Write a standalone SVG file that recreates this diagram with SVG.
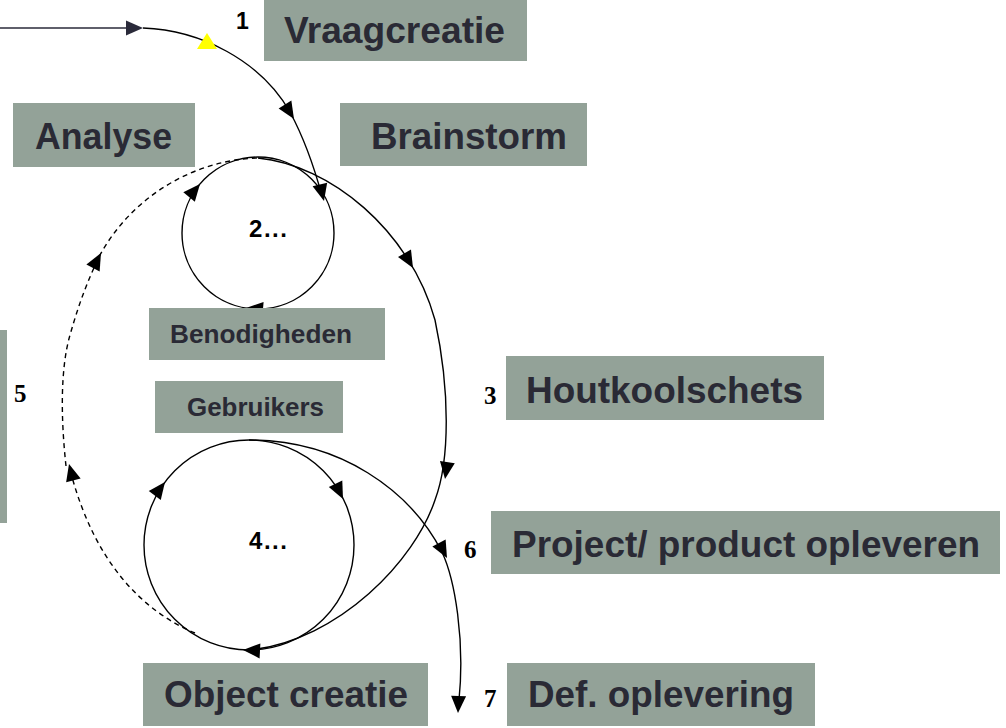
<svg xmlns="http://www.w3.org/2000/svg" xmlns:xlink="http://www.w3.org/1999/xlink" width="1006" height="728" viewBox="0 0 1006 728">
<style>
.box{fill:#93a298}
.lbl{font-family:"Liberation Sans",Arial,sans-serif;font-weight:bold;font-size:37px;fill:#2a2a35}
.sm{font-size:26px}
.num{font-family:"Liberation Serif","Times New Roman",serif;font-weight:bold;font-size:25px;fill:#000}
.dots{font-family:"Liberation Sans",Arial,sans-serif;font-weight:bold;font-size:24px;fill:#000}
.n1{font-family:"Liberation Sans",Arial,sans-serif;font-weight:bold;font-size:23px;fill:#000}
.ln{fill:none;stroke:#000;stroke-width:1.4}
.dash{stroke-dasharray:5,4}
.ah{fill:#000}
</style>
<defs>
<path id="ah" d="M0,0 L-17,-7.5 L-17,7.5 Z"/>
</defs>
<rect width="1006" height="728" fill="#fff"/>

<g id="connectors">
  <line x1="0" y1="28" x2="132" y2="28" stroke="#2a2a3a" stroke-width="1.6"/>
  <use href="#ah" transform="translate(143,28)" fill="#2a2a3a"/>
  <path class="ln" d="M143,28 C200,30 260,60 290,112 C305,140 315,170 322,196"/>
  <polygon points="197,49 217,49 207,33" fill="#ffff00"/>
  <use href="#ah" class="ah" transform="translate(294,119) rotate(58)"/>
  <use href="#ah" class="ah" transform="translate(324,201) rotate(76)"/>

  <circle class="ln" cx="258" cy="233" r="76"/>
  <use href="#ah" class="ah" transform="translate(200,184) rotate(-50)"/>
  <use href="#ah" class="ah" transform="translate(246,308) rotate(185)"/>

  <path class="ln" d="M258,158 C330,165 410,230 435,320 C450,390 450,460 435,500 C415,560 340,640 250,650"/>
  <use href="#ah" class="ah" transform="translate(413,268) rotate(60)"/>
  <use href="#ah" class="ah" transform="translate(445,479) rotate(98)"/>

  <path class="ln dash" d="M195,633 C140,610 95,560 72,477"/>
  <path class="ln dash" d="M66,466 C61,420 60,370 70,335 C80,300 88,280 100,255 C130,200 190,160 258,158"/>
  <use href="#ah" class="ah" transform="translate(101,253) rotate(-62)"/>
  <use href="#ah" class="ah" transform="translate(69,464) rotate(-105)"/>

  <circle class="ln" cx="249" cy="545" r="105"/>
  <use href="#ah" class="ah" transform="translate(165,482) rotate(-53)"/>
  <use href="#ah" class="ah" transform="translate(343,499) rotate(64)"/>
  <use href="#ah" class="ah" transform="translate(243,650) rotate(183)"/>

  <path class="ln" d="M249,440 C340,440 410,490 442,552 C455,580 465,640 459,700"/>
  <use href="#ah" class="ah" transform="translate(447,558) rotate(62)"/>
  <use href="#ah" class="ah" transform="translate(458,713) rotate(92)"/>
</g>

<g id="node-vraagcreatie">
  <rect class="box" x="264" y="0" width="263" height="61"/>
  <text class="lbl" x="284" y="43" textLength="221" lengthAdjust="spacingAndGlyphs">Vraagcreatie</text>
  <text class="n1" x="236" y="29">1</text>
</g>
<g id="node-analyse">
  <rect class="box" x="13" y="103" width="182" height="64"/>
  <text class="lbl" x="35" y="149" textLength="137" lengthAdjust="spacingAndGlyphs">Analyse</text>
</g>
<g id="node-brainstorm">
  <rect class="box" x="340" y="103" width="247" height="63"/>
  <text class="lbl" x="371" y="149" textLength="196" lengthAdjust="spacingAndGlyphs">Brainstorm</text>
</g>
<g id="node-2">
  <text class="dots" x="249" y="237" textLength="38" lengthAdjust="spacing">2...</text>
</g>
<g id="node-benodigheden">
  <rect class="box" x="149" y="308" width="236" height="52"/>
  <text class="lbl sm" x="170" y="343" textLength="182" lengthAdjust="spacingAndGlyphs">Benodigheden</text>
</g>
<g id="node-gebruikers">
  <rect class="box" x="155" y="381" width="188" height="52"/>
  <text class="lbl sm" x="187" y="416" textLength="137" lengthAdjust="spacingAndGlyphs">Gebruikers</text>
</g>
<g id="node-5">
  <rect class="box" x="0" y="330" width="7" height="193"/>
  <text class="num" x="14" y="402">5</text>
</g>
<g id="node-houtkoolschets">
  <rect class="box" x="506" y="356" width="318" height="64"/>
  <text class="lbl" x="526" y="403" textLength="277" lengthAdjust="spacingAndGlyphs">Houtkoolschets</text>
  <text class="num" x="484" y="404">3</text>
</g>
<g id="node-4">
  <text class="dots" x="249" y="549" textLength="38" lengthAdjust="spacing">4...</text>
</g>
<g id="node-project">
  <rect class="box" x="491" y="511" width="509" height="63"/>
  <text class="lbl" x="512" y="557" textLength="468" lengthAdjust="spacingAndGlyphs">Project/ product opleveren</text>
  <text class="num" x="464" y="558">6</text>
</g>
<g id="node-object">
  <rect class="box" x="143" y="663" width="285" height="63"/>
  <text class="lbl" x="164" y="707" textLength="244" lengthAdjust="spacingAndGlyphs">Object creatie</text>
</g>
<g id="node-def">
  <rect class="box" x="507" y="663" width="308" height="63"/>
  <text class="lbl" x="528" y="707" textLength="266" lengthAdjust="spacingAndGlyphs">Def. oplevering</text>
  <text class="num" x="484" y="707">7</text>
</g>
</svg>
